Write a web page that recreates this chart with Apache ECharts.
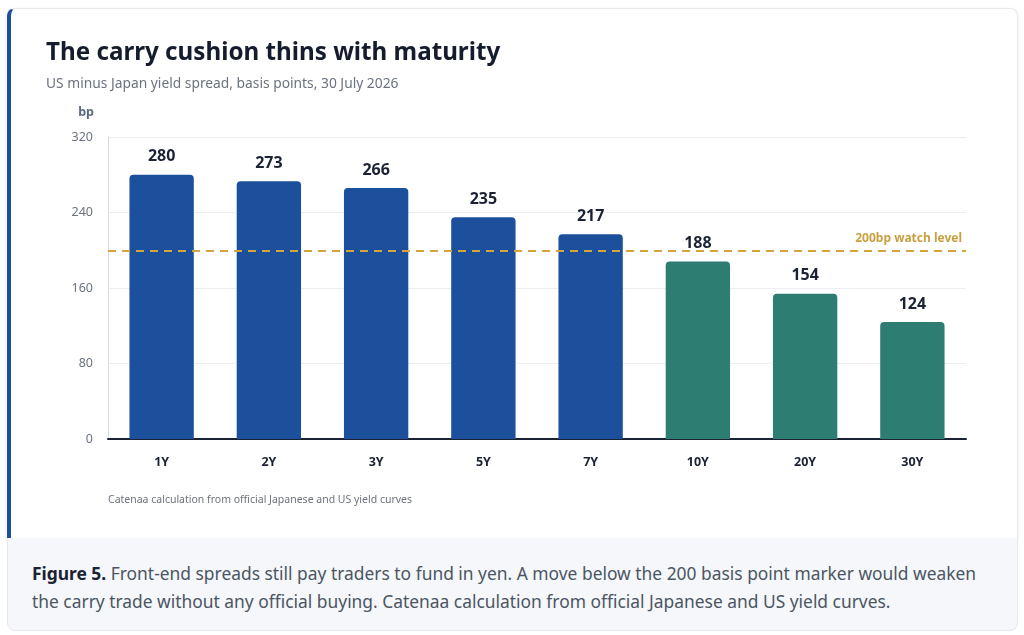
<!DOCTYPE html>
<html><head><meta charset="utf-8">
<script src="https://cdn.jsdelivr.net/npm/echarts@6/dist/echarts.min.js"></script>
<style>
html,body{margin:0;padding:0;background:#fff;width:1024px;height:635px;overflow:hidden;font-family:"Noto Sans","Open Sans",sans-serif;}
#card{position:absolute;left:7px;top:8px;width:1006px;height:530px;background:#fff;border:1px solid #e6e9ef;border-left:4px solid #1c4f9c;border-radius:8px 8px 0 0;box-shadow:0 1px 4px rgba(0,0,0,0.07);}
#chart{position:absolute;left:0;top:0;width:1024px;height:540px;}
#cap{position:absolute;left:7px;top:538px;width:985px;height:57px;padding:21px 0 14px 24px;background:#f5f7fa;border:1px solid #e6e9ef;border-top:none;border-radius:0 0 8px 8px;font-size:17.4px;line-height:28px;color:#4b5563;}
#cap span{display:block;width:950px;}
#cap b{color:#1a2233;}
</style></head><body>
<div id="card"></div>
<div id="chart"></div>
<div id="cap"><span><b>Figure 5.</b> Front-end spreads still pay traders to fund in yen. A move below the 200 basis point marker would weaken the carry trade without any official buying. Catenaa calculation from official Japanese and US yield curves.</span></div>
<script>
var categories = ['1Y','2Y','3Y','5Y','7Y','10Y','20Y','30Y'];
var spreads = [280,273,266,235,217,188,154,124];
var belowWatch = [false,false,false,false,false,true,true,true];
var watchLevel = 200;
var yTicks = [0,80,160,240,320];

var chart = echarts.init(document.getElementById('chart'));
chart.setOption({
  animation:false,
  title:[{text:'The carry cushion thins with maturity',left:41,top:36,textStyle:{fontSize:24.2,fontWeight:'bold',color:'#141c2e',fontFamily:'Noto Sans'}},
         {text:'US minus Japan yield spread, basis points, 30 July 2026',left:41,top:72,textStyle:{fontSize:13.8,fontWeight:'normal',color:'#6b7280',fontFamily:'Noto Sans'}},
         {text:'Catenaa calculation from official Japanese and US yield curves',left:103,top:490,textStyle:{fontSize:10.5,fontWeight:'normal',color:'#6b7280',fontFamily:'Noto Sans'}}],
  grid:{left:108,right:58,top:137,bottom:101},
  xAxis:{type:'category',data:categories,
    axisLine:{lineStyle:{color:'#1a2233',width:2}},axisTick:{show:false},
    axisLabel:{margin:17,fontSize:12.5,fontWeight:'bold',color:'#1a2233',fontFamily:'Noto Sans'}},
  yAxis:{type:'value',min:yTicks[0],max:yTicks[yTicks.length-1],interval:80,
    name:'bp',nameLocation:'end',nameGap:18,nameTextStyle:{align:'right',padding:[0,14,0,0],fontSize:12.5,fontWeight:'bold',color:'#5a6a85',fontFamily:'Noto Sans'},
    axisLine:{show:true,lineStyle:{color:'#d5d9e2',width:1}},axisTick:{show:false},
    axisLabel:{margin:15,fontSize:12.5,color:'#6b7280',fontFamily:'Noto Sans'},
    splitLine:{lineStyle:{color:'#eceef2'}}},
  series:[{type:'bar',barWidth:'60%',
    data:spreads.map(function(v,i){return {value:v,itemStyle:{color:belowWatch[i]?'#2e7d72':'#1c4f9c',borderRadius:[4,4,0,0]}};}),
    label:{show:true,position:'top',distance:10,fontSize:16,fontWeight:'bold',color:'#1a2233',fontFamily:'Noto Sans'},
    markLine:{symbol:'none',silent:true,data:[{yAxis:watchLevel}],
      lineStyle:{color:'#d4a53c',type:[8,6],width:2},
      label:{show:true,position:'insideEndTop',formatter:'200bp watch level',fontSize:12,fontWeight:'bold',color:'#c9a040',fontFamily:'Noto Sans',distance:[4,6]}}
  }]
});
</script>
</body></html>
